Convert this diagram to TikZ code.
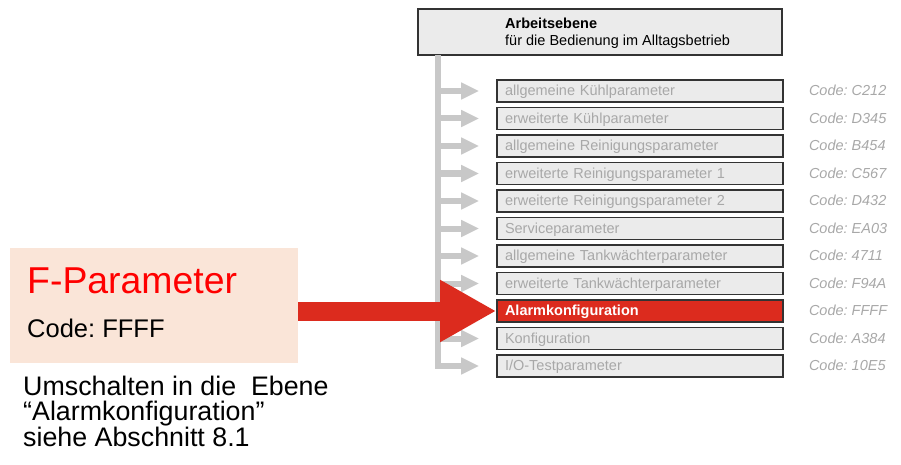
\documentclass[tikz,border=0pt]{standalone}
\usepackage{fontspec}
\setmainfont{Liberation Sans}
\usetikzlibrary{positioning, arrows.meta, calc}
\frenchspacing
\definecolor{alarmred}{HTML}{DC2B1E}
\definecolor{peach}{HTML}{FAE5D8}
\definecolor{boxgray}{HTML}{EBEBEB}
\definecolor{framegray}{HTML}{333333}
\definecolor{textgray}{HTML}{A8A8A8}
\definecolor{spinegray}{HTML}{C8C8C8}
\tikzset{
    rowbox/.style={ % One menu entry of the level
        draw=framegray, line width=1.6pt, fill=boxgray, text=textgray,
        minimum width=286pt, minimum height=22pt,
        inner xsep=8pt, inner ysep=0pt, text width=270pt, align=left,
        text height=9.5pt, text depth=0pt,
        font=\fontsize{14.5}{17}\selectfont
    },
    alarmbox/.style={ % The selected entry
        rowbox, fill=alarmred, text=white,
        font=\fontsize{14.5}{17}\selectfont\bfseries
    },
    codelabel/.style={ % Access code right of each entry
        text=textgray, inner sep=0pt, text height=9.5pt, text depth=0pt,
        font=\fontsize{14.5}{17}\selectfont\itshape
    },
    branch/.style={ % Gray arrows from the spine
        draw=spinegray, line width=6pt,
        -{Triangle[length=18pt,width=16pt]}, shorten >=17pt
    },
}

\begin{document}
\begin{tikzpicture}[x=1pt, y=-1pt]
    \useasboundingbox (0,0) rectangle (901,465);

    % working level on top
    \node[draw=framegray, line width=2.5pt, fill=boxgray,
          minimum width=364pt, minimum height=46pt]         (top)    at (600,32) {};
    \node[anchor=base west, align=left, inner sep=0pt,
          font=\fontsize{14.5}{17}\selectfont]              (toptxt) at (505,46)
          {\textbf{Arbeitsebene}\\für die Bedienung im Alltagsbetrieb};
    \coordinate (spine) at (438,55);

    % menu entries
    \foreach \i/\txt/\code/\sty in {
        1/{allgemeine Kühlparameter}/C212/rowbox,
        2/{erweiterte Kühlparameter}/D345/rowbox,
        3/{allgemeine Reinigungsparameter}/B454/rowbox,
        4/{erweiterte Reinigungsparameter 1}/C567/rowbox,
        5/{erweiterte Reinigungsparameter 2}/D432/rowbox,
        6/{Serviceparameter}/EA03/rowbox,
        7/{allgemeine Tankwächterparameter}/4711/rowbox,
        8/{erweiterte Tankwächterparameter}/F94A/rowbox,
        9/{Alarmkonfiguration}/FFFF/alarmbox,
        10/{Konfiguration}/A384/rowbox,
        11/{I/O-Testparameter}/10E5/rowbox}
    {
        \node[\sty] (r\i) at (640,{91+27.5*(\i-1)}) {\txt};
        \node[codelabel, anchor=west, right=25pt of r\i] (c\i) {Code: \code};
    }

    \foreach \i in {1,...,10}
        \draw[branch] (spine |- r\i.west) -- (r\i.west);
    \draw[branch] (spine) |- (r11.west);

    % F-parameter box with the big arrow
    \node[fill=peach, inner sep=0pt,
          minimum width=288pt, minimum height=115pt]        (fpar)   at (154,305.5) {};
    \node[anchor=base west, inner sep=0pt, text=red,
          font=\fontsize{37.4}{40}\selectfont]              (fname)  at (27,293) {F-Parameter};
    \node[anchor=base west, inner sep=0pt,
          font=\fontsize{25.5}{30}\selectfont]              (fcode)  at (27,337) {Code: FFFF};
    \draw[draw=alarmred, line width=19pt,
          -{Triangle[length=56pt,width=58pt]}] (fpar.east |- r9.west) -- (r9.west);

    \node[anchor=base west, align=left, inner sep=0pt,
          font=\fontsize{26.8}{24.5}\selectfont]            (note)   at (23,446)
          {Umschalten in die\ \ Ebene\\“Alarmkonfiguration”\\siehe Abschnitt 8.1};
\end{tikzpicture}
\end{document}
